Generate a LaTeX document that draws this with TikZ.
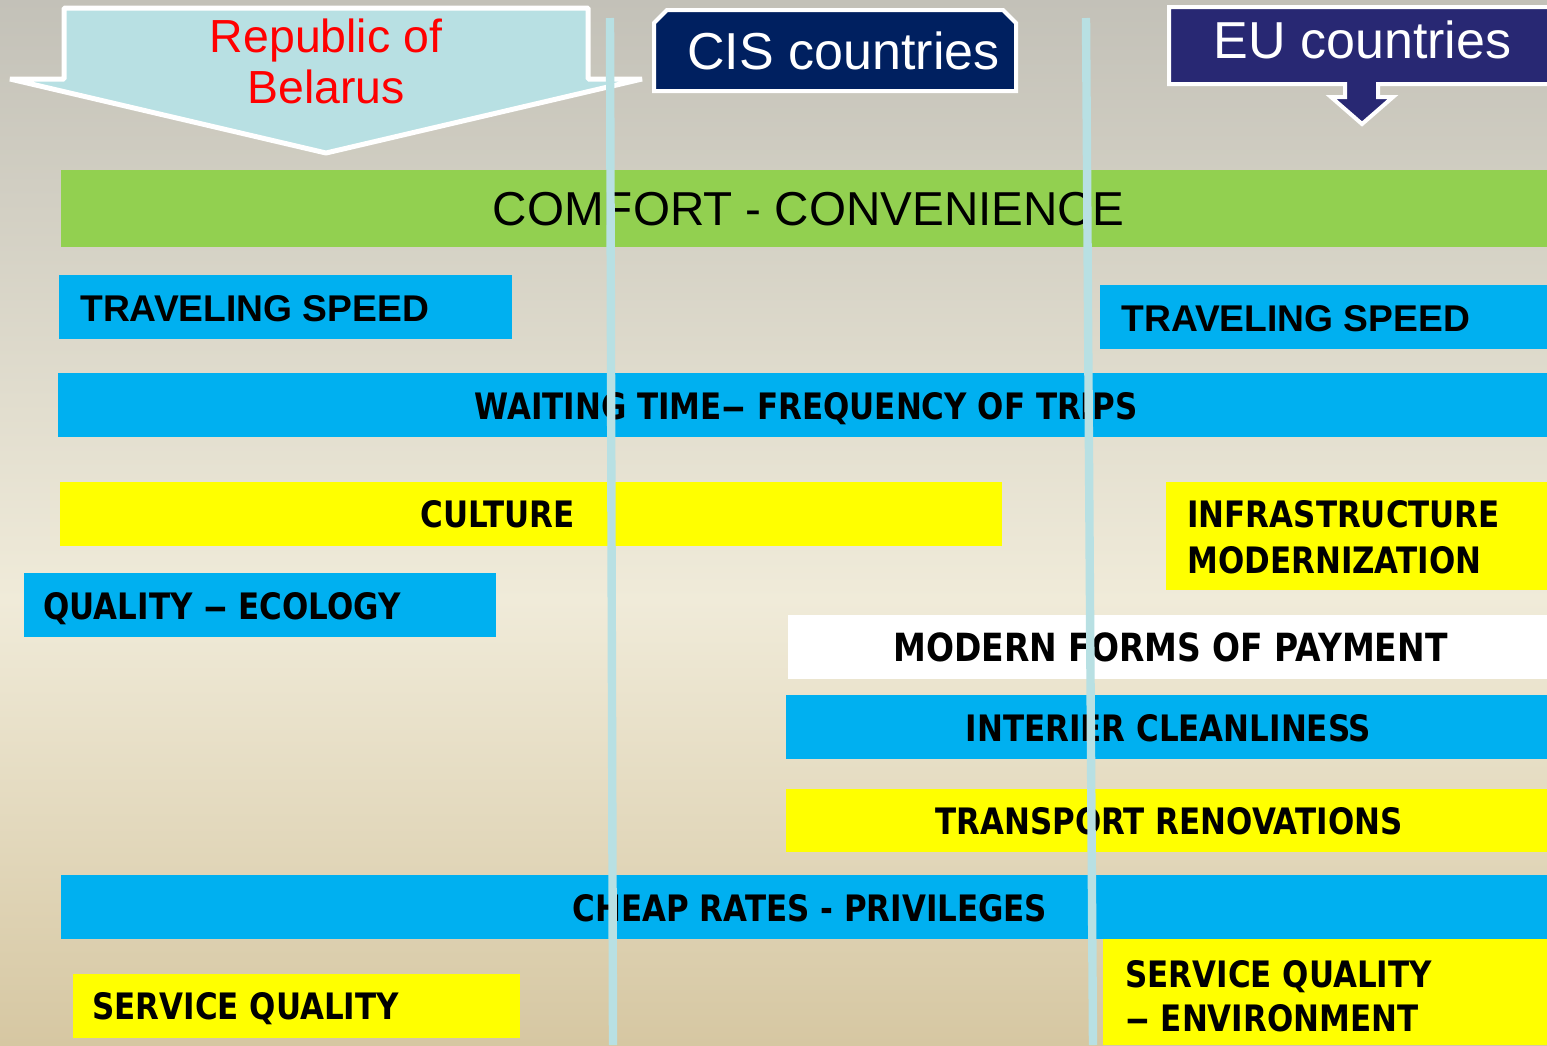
\documentclass[tikz,border=0pt]{standalone}
\usepackage{fontspec}
\usepackage{graphicx}
\setmainfont{Liberation Sans}
\newfontfamily\tah{DejaVu Sans}[FakeStretch=0.85]
\newcommand{\wdash}{\scalebox{1.6}[1]{–}}
\definecolor{bgtop}{RGB}{195,193,184}
\definecolor{bgmid}{RGB}{240,235,217}
\definecolor{bgbot}{RGB}{214,199,162}
\definecolor{barblue}{RGB}{0,176,240}
\definecolor{bargreen}{RGB}{146,208,80}
\definecolor{baryellow}{RGB}{255,255,0}
\definecolor{lightcyan}{RGB}{184,224,227}
\definecolor{cisnavy}{RGB}{0,32,96}
\definecolor{eunavy}{RGB}{40,40,115}
\begin{document}
\begin{tikzpicture}[x=0.5pt,y=-0.5pt,
  hdr/.style={inner sep=0pt, anchor=base, font=\fontsize{26}{30}\selectfont, text=white},
  lbl/.style={inner sep=0pt, anchor=base, font={\tah\bfseries\fontsize{18.2}{22}\selectfont}},
  lblw/.style={lbl, anchor=base west},
  arl/.style={inner sep=0pt, anchor=base west, font={\bfseries\fontsize{18.6}{22}\selectfont}},
  vline/.style={draw=lightcyan, line width=4.2pt}]
\useasboundingbox (0,0) rectangle (1547,1045);
% background
\fill[top color=bgtop, bottom color=bgmid] (0,0) rectangle (1547,600);
\fill[top color=bgmid, bottom color=bgbot] (0,599) rectangle (1547,1045);
% Belarus arrow
\draw[white, line width=2.5pt, line join=bevel, fill=lightcyan]
  (64,8) -- (588,8) -- (588,79) -- (642,79) -- (326,153) -- (10,79) -- (64,79) -- cycle;
\node[inner sep=0pt, anchor=base, text=red, font=\fontsize{23.2}{27}\selectfont] (rep1) at (326,52) {Republic of};
\node[inner sep=0pt, anchor=base, text=red, font=\fontsize{23.2}{27}\selectfont] (rep2) at (326,103) {Belarus};
% CIS box
\draw[white, line width=2pt, fill=cisnavy]
  (654,23) -- (667,10) -- (1003,10) -- (1016,23) -- (1016,91) -- (654,91) -- cycle;
\node[hdr] (cis) at (843.5,69) {CIS countries};
% EU box
\draw[white, line width=2pt, line join=miter, fill=eunavy]
  (1169,7) -- (1555,7) -- (1555,84) -- (1378,84) -- (1378,97) -- (1393,97) -- (1362,124)
  -- (1331,97) -- (1345,97) -- (1345,84) -- (1169,84) -- cycle;
\node[hdr] (eu) at (1362.5,58) {EU countries};
% bars
\fill[bargreen] (61,170) rectangle (1547,247);
\node[inner sep=0pt, anchor=base, font=\fontsize{23.8}{28}\selectfont] (comfort) at (808.5,225) {COMFORT - CONVENIENCE};
\fill[barblue] (59,275) rectangle (512,339);
\node[arl] (tsl) at (80,321) {TRAVELING SPEED};
\fill[barblue] (1100,285) rectangle (1547,349);
\node[arl] (tsr) at (1121,331) {TRAVELING SPEED};
\fill[barblue] (58,373) rectangle (1547,437);
\node[lbl] (wait) at (806,419) {WAITING TIME\wdash{} FREQUENCY OF TRIPS};
\fill[baryellow] (60,482) rectangle (1002,546);
\node[lbl] (cult) at (497.5,527.5) {CULTURE};
\fill[baryellow] (1166,482) rectangle (1547,590);
\node[lblw] (infa) at (1187,527) {INFRASTRUCTURE};
\node[lblw] (infb) at (1187,573) {MODERNIZATION};
\fill[barblue] (24,573) rectangle (496,637);
\node[lblw] (qual) at (43,619) {QUALITY \wdash{} ECOLOGY};
\fill[white] (788,615) rectangle (1547,679);
\node[lbl, font={\tah\bfseries\fontsize{19.4}{22}\selectfont}] (pay) at (1170.5,661) {MODERN FORMS OF PAYMENT};
\fill[barblue] (786,695) rectangle (1547,759);
\node[lbl] (clean) at (1168.5,741) {INTERIER CLEANLINESS};
\fill[baryellow] (786,789) rectangle (1547,852);
\node[lbl] (renov) at (1169,834) {TRANSPORT RENOVATIONS};
\fill[barblue] (61,875) rectangle (1547,939);
\node[lbl] (cheap) at (810,921) {CHEAP RATES - PRIVILEGES};
\fill[baryellow] (73,974) rectangle (520,1038);
\node[lblw] (servl) at (92,1019.5) {SERVICE QUALITY};
\fill[baryellow] (1103,939) rectangle (1547,1045);
\node[lblw] (serva) at (1125,987) {SERVICE QUALITY};
\node[lblw] (servb) at (1125,1031) {\wdash{} ENVIRONMENT};
% vertical divider lines
\draw[vline] (610,18) -- (613,1045);
\draw[vline] (1086,18) -- (1093,1045);
\end{tikzpicture}
\end{document}
